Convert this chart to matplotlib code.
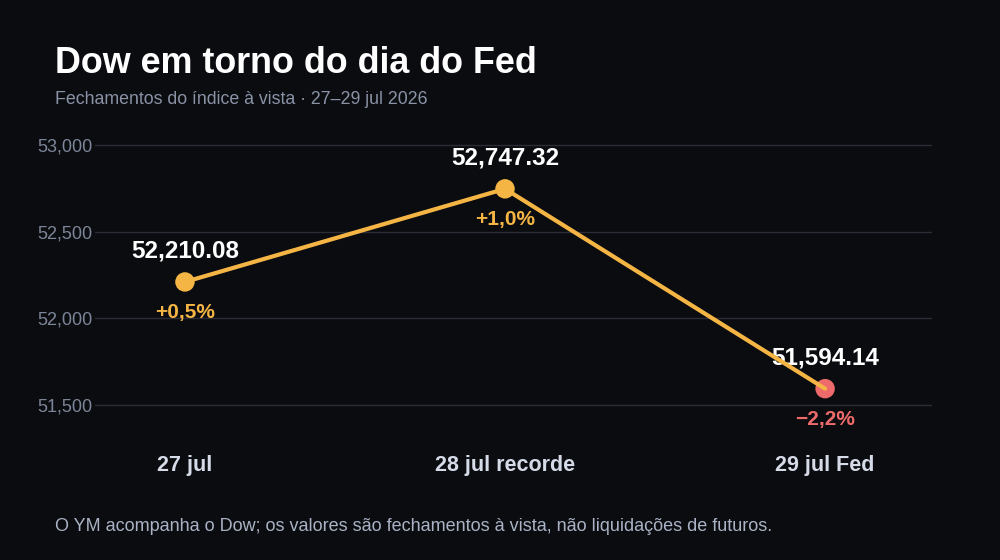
import matplotlib.pyplot as plt
import numpy as np

plt.rcParams['font.family'] = ['Liberation Sans', 'DejaVu Sans']

# data
days = ['27 jul', '28 jul recorde', '29 jul Fed']
closes = [52210.08, 52747.32, 51594.14]
changes = ['+0,5%', '+1,0%', '\u22122,2%']
yticks = [51500, 52000, 52500, 53000]

bg = '#0a0c10'
orange = '#f5b544'
red = '#ef6b6b'

fig = plt.figure(figsize=(10, 5.6), dpi=100, facecolor=bg)
ax = fig.add_axes([0.095, 0.2143, 0.837, 0.5536], facecolor=bg)

x = np.arange(len(days))
point_colors = [orange, orange, red]

ax.plot(x, closes, color=orange, lw=3, zorder=4, solid_capstyle='round')
ax.scatter(x, closes, s=14 ** 2, color=point_colors, zorder=3, edgecolors='none')

for xi, val, ch, col in zip(x, closes, changes, point_colors):
    ax.annotate(f'{val:,.2f}', (xi, val), xytext=(0, 14), textcoords='offset points',
                ha='center', va='bottom', color='white', fontsize=17.5,
                fontweight='bold', zorder=2)
    ax.annotate(ch, (xi, val), xytext=(0, -15), textcoords='offset points',
                ha='center', va='top', color=col, fontsize=15,
                fontweight='bold', zorder=2)

ax.set_xlim(-0.281, 2.334)
ax.set_ylim(51298, 53087)
ax.set_yticks(yticks)
ax.set_yticklabels([f'{t:,}' for t in yticks])
ax.set_xticks(x)
ax.set_xticklabels(days)

ax.grid(axis='y', color='#2a2d35', lw=1)
ax.set_axisbelow(True)
for s in ax.spines.values():
    s.set_visible(False)
ax.tick_params(axis='y', length=0, pad=2, labelsize=13, labelcolor='#7d8698')
ax.tick_params(axis='x', length=0, pad=11, labelsize=15.5, labelcolor='#d6dbe8')
for lbl in ax.get_xticklabels():
    lbl.set_fontweight('bold')

fig.text(0.055, 1 - 73 / 560, 'Dow em torno do dia do Fed', color='white',
         fontsize=25.8, fontweight='bold', va='baseline', ha='left')
fig.text(0.055, 1 - 104 / 560, 'Fechamentos do índice à vista · 27–29 jul 2026',
         color='#8a93a6', fontsize=12.8, va='baseline', ha='left')
fig.text(0.055, 1 - 531 / 560,
         'O YM acompanha o Dow; os valores são fechamentos à vista, não liquidações de futuros.',
         color='#aab3c5', fontsize=13, va='baseline', ha='left')

fig.savefig('out.png', dpi=100, facecolor=bg)
